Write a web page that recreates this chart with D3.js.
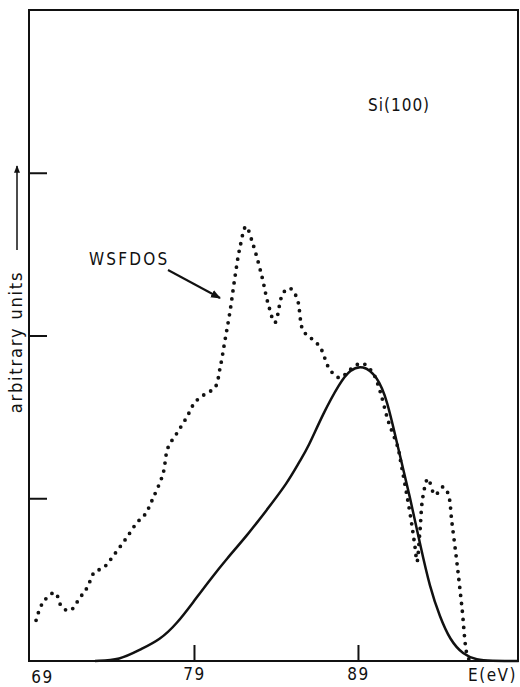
<!DOCTYPE html>
<html>
<head>
<meta charset="utf-8">
<script src="https://cdn.jsdelivr.net/npm/d3@7"></script>
<style>
  body { margin: 0; background: #fff; }
  svg { display: block; }
  text { font-family: "DejaVu Sans Condensed", "DejaVu Sans", sans-serif; fill: #111; }
  .axis path { display: none; }
  .axis line { stroke: #111; stroke-width: 2; }
</style>
</head>
<body>
<div id="chart"></div>
<script>
// energy (eV) and intensity (arbitrary units)
var wsfdosE = [69.37, 69.79, 70.52, 70.95, 71.44, 72.05, 72.48, 72.96, 73.45, 74.18, 74.91, 75.52, 76.01, 76.50, 77.11,
  77.41, 77.96, 78.57, 79.06, 79.67, 80.28, 80.59, 80.89, 81.20, 81.50, 81.80, 82.17, 82.60, 83.15, 83.51, 83.94,
  84.43, 84.85, 85.28, 85.65, 86.07, 86.68, 87.29, 87.90, 88.51, 89.24, 89.91, 90.34, 90.83, 91.44, 91.56, 92.17,
  92.48, 92.60, 92.78, 92.96, 93.27, 93.70, 94.18, 94.49, 94.73, 95.04, 95.34, 95.65, 95.83];
var wsfdosI = [0.25, 0.36, 0.42, 0.33, 0.31, 0.39, 0.45, 0.55, 0.57, 0.66, 0.76, 0.85, 0.90, 1.00, 1.15,
  1.31, 1.40, 1.50, 1.59, 1.64, 1.68, 1.80, 1.97, 2.15, 2.36, 2.54, 2.67, 2.56, 2.36, 2.20, 2.08,
  2.26, 2.29, 2.23, 2.03, 1.99, 1.93, 1.79, 1.74, 1.79, 1.83, 1.77, 1.66, 1.48, 1.31, 1.25, 0.91,
  0.70, 0.61, 0.80, 1.01, 1.12, 1.02, 1.07, 1.03, 0.85, 0.60, 0.33, 0.04, 0.0];

var expE = [72.96, 74.49, 75.71, 76.93, 77.96, 78.94, 79.98, 81.01, 82.23, 83.45, 84.67, 85.46, 85.95, 86.87,
  87.90, 88.51, 89.30, 90.16, 90.77, 91.44, 92.17, 92.78, 93.39, 94.00, 94.61, 95.40, 96.26, 97.05, 98.8];
var expI = [0.0, 0.006, 0.07, 0.13, 0.23, 0.36, 0.50, 0.63, 0.77, 0.93, 1.09, 1.23, 1.31, 1.52,
  1.71, 1.79, 1.82, 1.75, 1.61, 1.31, 1.01, 0.72, 0.45, 0.27, 0.13, 0.04, 0.006, 0.0, 0.0];

var xTicks = [69, 79, 89];
var yTicks = [1, 2, 3];

var margin = {top: 10, right: 1, bottom: 26, left: 30},
    width = 520 - margin.left - margin.right,
    height = 687 - margin.top - margin.bottom;

var x = d3.scaleLinear().domain([69, 98.82]).range([0, width]);
var y = d3.scaleLinear().domain([0, 4]).range([height, 0]);

var svg = d3.select("#chart")
    .append("svg")
    .attr("width", 520)
    .attr("height", 687)
    .append("g")
    .attr("transform", "translate(" + margin.left + "," + margin.top + ")");

// frame
svg.append("rect")
  .attr("x", -1).attr("y", 0)
  .attr("width", width).attr("height", height)
  .attr("fill", "none")
  .attr("stroke", "#111")
  .attr("stroke-width", 2);

var xAxis = svg.append("g")
  .attr("class", "x axis")
  .attr("transform", "translate(0," + height + ")")
  .call(d3.axisBottom(x).tickValues(xTicks).tickSize(-16).tickPadding(7).tickFormat(d3.format("d")));
xAxis.selectAll("text")
  .style("font-size", "17px")
  .style("letter-spacing", "1.5px");
xAxis.selectAll(".tick").filter(function(d) { return d === 69; })
  .each(function() {
    d3.select(this).select("line").remove();
    d3.select(this).select("text").attr("x", 12).attr("dy", "0.9em");
  });

svg.append("g")
  .attr("class", "y axis")
  .call(d3.axisLeft(y).tickValues(yTicks).tickSize(-17).tickFormat(""));

// curves
var dotted = d3.line()
  .x(function(d) { return x(d[0]); })
  .y(function(d) { return y(d[1]); })
  .curve(d3.curveCatmullRom.alpha(0.5));

var smooth = d3.line()
  .x(function(d) { return x(d[0]); })
  .y(function(d) { return y(d[1]); })
  .curve(d3.curveBasis);

svg.append("path")
  .datum(d3.zip(expE, expI))
  .attr("d", smooth)
  .attr("fill", "none")
  .attr("stroke", "#111")
  .attr("stroke-width", 2.5);

svg.append("path")
  .datum(d3.zip(wsfdosE, wsfdosI))
  .attr("d", dotted)
  .attr("fill", "none")
  .attr("stroke", "#111")
  .attr("stroke-width", 3.8)
  .attr("stroke-linecap", "round")
  .attr("stroke-dasharray", "0 8");

// labels
svg.append("text")
  .attr("x", width - 2)
  .attr("y", height + 20)
  .style("font-size", "17px")
  .style("letter-spacing", "1.5px")
  .attr("text-anchor", "end")
  .text("E(eV)");

svg.append("text")
  .attr("x", 338)
  .attr("y", 101)
  .style("font-size", "17px")
  .style("letter-spacing", "1px")
  .text("Si(100)");

svg.append("text")
  .attr("x", 59)
  .attr("y", 255)
  .style("font-size", "17px")
  .style("letter-spacing", "2.2px")
  .text("WSFDOS");

svg.append("defs").append("marker")
  .attr("id", "head")
  .attr("viewBox", "0 0 10 10")
  .attr("refX", 9).attr("refY", 5)
  .attr("markerWidth", 5).attr("markerHeight", 5)
  .attr("orient", "auto")
  .append("path").attr("d", "M0,1L10,5L0,9Z").attr("fill", "#111");

svg.append("line")
  .attr("x1", 138).attr("y1", 260)
  .attr("x2", 190).attr("y2", 288)
  .attr("stroke", "#111").attr("stroke-width", 2)
  .attr("marker-end", "url(#head)");

// y label with upward arrow
var yl = svg.append("g").attr("transform", "translate(-13,0)");
yl.append("text")
  .attr("transform", "translate(5,332) rotate(-90)")
  .attr("text-anchor", "middle")
  .style("font-size", "18px")
  .style("letter-spacing", "1.8px")
  .text("arbitrary units");
yl.append("line")
  .attr("x1", 0).attr("y1", 240)
  .attr("x2", 0).attr("y2", 156)
  .attr("stroke", "#111").attr("stroke-width", 1.5)
  .attr("marker-end", "url(#head)");
</script>
</body>
</html>
